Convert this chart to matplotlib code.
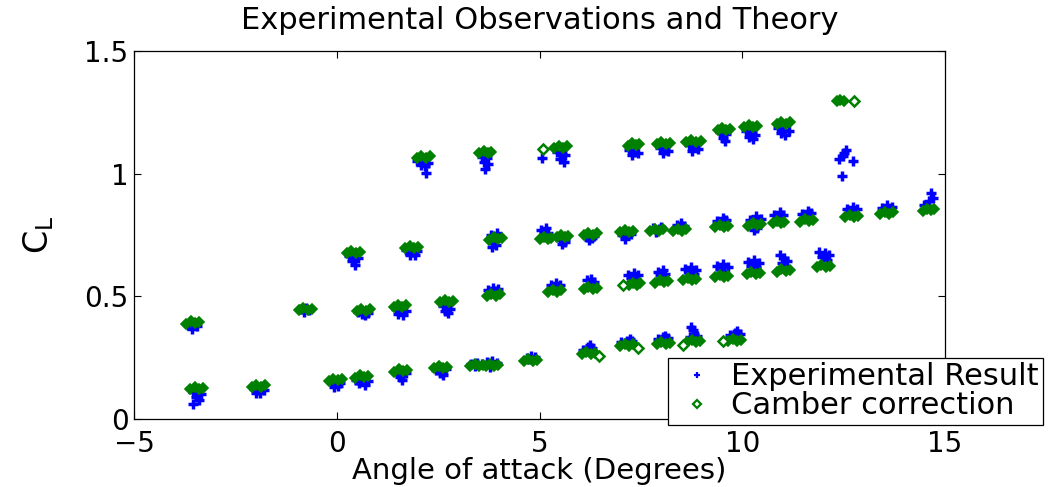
import matplotlib.pyplot as plt

# Experimental result (blue +), one line per angle-of-attack cluster
exp_x_low = [-3.55, -3.42, -3.35, -3.48, -3.55, -3.40,
             -2.05, -1.92, -1.80, -1.98, -1.88,
             -0.12, 0.00, 0.08, -0.06, 0.03,
             0.48, 0.62, 0.76, 0.56, 0.70,
             1.48, 1.62, 1.70, 1.55, 1.62,
             2.46, 2.60, 2.70, 2.55, 2.62,
             3.32, 3.45, 3.58, 3.40,
             3.70, 3.82, 3.95, 3.78,
             4.68, 4.80, 4.90, 4.75,
             6.08, 6.20, 6.30, 6.15, 6.25,
             7.02, 7.15, 7.28, 7.10, 7.22,
             7.92, 8.05, 8.18, 8.00, 8.10,
             8.70, 8.82, 8.88, 8.78, 8.74,
             9.70, 9.82, 9.95, 9.78, 9.86]
exp_y_low = [.112, .108, .100, .088, .060, .078,
             .122, .118, .120, .106, .104,
             .148, .150, .145, .132, .136,
             .160, .162, .155, .145, .138,
             .186, .183, .188, .170, .158,
             .200, .198, .203, .186, .178,
             .226, .229, .225, .215,
             .232, .236, .230, .214,
             .250, .258, .252, .245,
             .282, .295, .290, .276, .300,
             .312, .320, .318, .308, .326,
             .325, .335, .330, .322, .340,
             .333, .345, .338, .362, .376,
             .343, .352, .348, .336, .360]

exp_x_mid = [-3.66, -3.52, -3.44, -3.56,
             -0.88, -0.76, -0.68, -0.80,
             0.52, 0.66, 0.78, 0.70, 0.62,
             1.46, 1.58, 1.70, 1.52, 1.64,
             2.62, 2.72, 2.80, 2.68, 2.74,
             3.74, 3.86, 3.98, 3.80, 3.92,
             5.28, 5.40, 5.50, 5.35, 5.45,
             6.16, 6.28, 6.34, 6.22,
             7.18, 7.32, 7.44, 7.26, 7.38,
             7.92, 8.04, 8.10, 7.98,
             8.60, 8.74, 8.86, 8.68, 8.80,
             9.38, 9.52, 9.64, 9.46, 9.56,
             10.14, 10.28, 10.42, 10.22, 10.34,
             10.94, 11.04, 11.10, 10.98, 11.02,
             11.90, 12.04, 12.14, 11.96, 12.08]
exp_y_mid = [.385, .382, .378, .366,
             .447, .452, .446, .438,
             .438, .436, .432, .424, .428,
             .448, .444, .440, .430, .425,
             .462, .455, .448, .440, .434,
             .527, .536, .530, .518, .522,
             .545, .556, .548, .536, .540,
             .565, .572, .558, .548,
             .588, .596, .585, .575, .570,
             .600, .606, .592, .585,
             .610, .618, .606, .598, .592,
             .623, .632, .620, .610, .604,
             .638, .648, .636, .624, .618,
             .668, .658, .645, .636, .624,
             .680, .676, .670, .660, .650]

exp_x_high = [0.30, 0.44, 0.52, 0.38, 0.46,
              1.72, 1.86, 1.98, 1.80, 1.92,
              3.80, 3.95, 3.86, 3.92, 3.84,
              5.04, 5.16, 5.10, 5.22,
              5.50, 5.62, 5.56, 5.64,
              6.16, 6.30, 6.22, 6.34,
              7.04, 7.18, 7.10, 7.26,
              7.80, 7.94, 7.88, 8.00,
              8.38, 8.50, 8.44, 8.56,
              9.38, 9.52, 9.46, 9.60,
              10.18, 10.34, 10.46, 10.28, 10.36,
              10.78, 10.92, 10.88, 11.00,
              11.48, 11.62, 11.58, 11.70,
              12.58, 12.72, 12.82, 12.66,
              13.44, 13.58, 13.68, 13.52,
              14.48, 14.60, 14.70, 14.56, 14.66]
exp_y_high = [.665, .660, .655, .642, .628,
              .688, .680, .685, .670, .668,
              .752, .758, .718, .708, .700,
              .770, .778, .762, .758,
              .728, .722, .712, .732,
              .742, .738, .728, .745,
              .752, .748, .735, .755,
              .780, .776, .762, .782,
              .790, .798, .782, .788,
              .806, .818, .800, .810,
              .812, .826, .816, .770, .780,
              .830, .842, .820, .832,
              .835, .846, .826, .838,
              .855, .866, .858, .845,
              .862, .872, .866, .852,
              .872, .888, .900, .864, .922]

exp_x_top = [1.98, 2.12, 2.24, 2.08, 2.18, 2.20,
             3.58, 3.70, 3.64, 3.74, 3.66,
             5.05,
             5.42, 5.56, 5.64, 5.50, 5.60,
             7.20, 7.34, 7.42, 7.28,
             7.96, 8.10, 8.16, 8.04,
             8.68, 8.84, 8.92, 8.76,
             9.46, 9.60, 9.52, 9.58,
             10.08, 10.24, 10.32, 10.16, 10.26,
             10.88, 11.04, 11.14, 10.96, 11.06,
             12.38, 12.48, 12.52, 12.56, 12.74, 12.45]
exp_y_top = [1.050, 1.046, 1.042, 1.034, 1.030, 1.002,
             1.068, 1.062, 1.046, 1.040, 1.020,
             1.064,
             1.090, 1.082, 1.076, 1.060, 1.046,
             1.098, 1.090, 1.086, 1.076,
             1.106, 1.098, 1.092, 1.084,
             1.116, 1.108, 1.102, 1.094,
             1.168, 1.160, 1.145, 1.135,
             1.172, 1.166, 1.158, 1.150, 1.140,
             1.186, 1.180, 1.172, 1.165, 1.158,
             1.060, 1.072, 1.085, 1.098, 1.050, 0.992]

# Camber correction (green diamonds), one line per cluster
cam_x_low = [-3.61, -3.50, -3.39, -3.29,
             -2.09, -1.98, -1.87, -1.77,
             -0.19, -0.08, 0.03, 0.13,
             0.46, 0.57, 0.68, 0.78,
             1.42, 1.53, 1.64, 1.74,
             2.41, 2.52, 2.63, 2.73,
             3.29, 3.40, 3.51, 3.61,
             3.68, 3.78, 3.88, 3.98,
             4.61, 4.72, 4.83, 4.93,
             6.04, 6.15, 6.26, 6.36,
             6.99, 7.10, 7.21, 7.31,
             7.89, 8.00, 8.11, 8.21,
             8.64, 8.75, 8.86, 8.96,
             9.66, 9.77, 9.88, 9.98]
cam_y_low = [.121, .130, .122, .127,
             .131, .140, .132, .137,
             .156, .165, .157, .162,
             .169, .178, .170, .175,
             .193, .202, .194, .199,
             .207, .216, .208, .213,
             .216, .225, .217, .222,
             .216, .225, .217, .222,
             .236, .245, .237, .242,
             .264, .273, .265, .270,
             .298, .307, .299, .304,
             .305, .314, .306, .311,
             .312, .321, .313, .318,
             .318, .327, .319, .324]

cam_x_mid = [-3.71, -3.60, -3.49, -3.39,
             -0.94, -0.83, -0.72, -0.62,
             0.49, 0.60, 0.71, 0.81,
             1.40, 1.51, 1.62, 1.72,
             2.55, 2.66, 2.77, 2.87,
             3.70, 3.81, 3.92, 4.02,
             5.22, 5.33, 5.44, 5.54,
             6.09, 6.20, 6.31, 6.41,
             7.20, 7.30, 7.40, 7.48,
             7.85, 7.96, 8.07, 8.17,
             8.55, 8.66, 8.77, 8.87,
             9.33, 9.44, 9.55, 9.65,
             10.11, 10.22, 10.33, 10.43,
             10.85, 10.96, 11.07, 11.17,
             11.84, 11.95, 12.06, 12.16]
cam_y_mid = [.389, .398, .390, .395,
             .444, .453, .445, .450,
             .441, .450, .442, .447,
             .457, .466, .458, .463,
             .475, .484, .476, .481,
             .502, .511, .503, .508,
             .518, .527, .519, .524,
             .529, .538, .530, .535,
             .547, .556, .548, .553,
             .556, .565, .557, .562,
             .566, .575, .567, .572,
             .577, .586, .578, .583,
             .591, .600, .592, .597,
             .601, .610, .602, .607,
             .618, .627, .619, .624]

cam_x_high = [0.25, 0.36, 0.47, 0.57,
              1.69, 1.80, 1.91, 2.01,
              3.76, 3.87, 3.98, 4.08,
              5.00, 5.10, 5.20, 5.28,
              5.43, 5.53, 5.63, 5.71,
              6.09, 6.20, 6.31, 6.41,
              6.99, 7.10, 7.21, 7.31,
              7.73, 7.84, 7.95, 8.05,
              8.30, 8.41, 8.52, 8.62,
              9.33, 9.44, 9.55, 9.65,
              10.15, 10.26, 10.37, 10.47,
              10.75, 10.85, 10.95, 11.03,
              11.43, 11.54, 11.65, 11.75,
              12.54, 12.65, 12.76, 12.86,
              13.40, 13.51, 13.62, 13.72,
              14.45, 14.55, 14.65, 14.73]
cam_y_high = [.676, .685, .677, .682,
              .697, .706, .698, .703,
              .731, .740, .732, .737,
              .733, .742, .734, .739,
              .740, .749, .741, .746,
              .751, .760, .752, .757,
              .761, .770, .762, .767,
              .767, .776, .768, .773,
              .767, .776, .768, .773,
              .781, .790, .782, .787,
              .788, .797, .789, .794,
              .797, .806, .798, .803,
              .805, .814, .806, .811,
              .822, .831, .823, .828,
              .836, .845, .837, .842,
              .849, .858, .850, .855]

cam_x_top = [1.97, 2.08, 2.19, 2.29,
             3.52, 3.62, 3.72, 3.80,
             5.36, 5.47, 5.58, 5.68,
             7.17, 7.27, 7.37, 7.45,
             7.89, 8.00, 8.11, 8.21,
             8.61, 8.73, 8.85, 8.97,
             9.41, 9.51, 9.61, 9.69,
             10.05, 10.16, 10.27, 10.37,
             10.85, 10.96, 11.07, 11.17,
             12.33, 12.42, 12.50]
cam_y_top = [1.064, 1.073, 1.065, 1.070,
             1.083, 1.092, 1.084, 1.089,
             1.105, 1.114, 1.106, 1.111,
             1.114, 1.123, 1.115, 1.120,
             1.121, 1.130, 1.122, 1.127,
             1.128, 1.137, 1.129, 1.134,
             1.178, 1.187, 1.179, 1.184,
             1.189, 1.198, 1.190, 1.195,
             1.203, 1.212, 1.204, 1.209,
             1.297, 1.302, 1.298]

# single camber points that stand apart (drawn open)
cam_x_single = [6.47, 7.42, 8.53, 9.53, 7.06, 5.09, 12.76]
cam_y_single = [.255, .288, .303, .316, .546, 1.102, 1.295]

x_ticks = [-5, 0, 5, 10, 15]
y_ticks = [0, 0.5, 1, 1.5]
y_tick_labels = ["0", "0.5", "1", "1.5"]

plt.rcParams["font.family"] = ["DejaVu Sans"]

fig = plt.figure(figsize=(10.49, 4.87), dpi=100)
ax = fig.add_axes([0.1277, 0.1396, 0.7732, 0.7557])

exp_x = exp_x_low + exp_x_mid + exp_x_high + exp_x_top
exp_y = exp_y_low + exp_y_mid + exp_y_high + exp_y_top
cam_x = cam_x_low + cam_x_mid + cam_x_high + cam_x_top
cam_y = cam_y_low + cam_y_mid + cam_y_high + cam_y_top

green = "#008000"
ax.plot(exp_x, exp_y, "+", color="#0000ff", markersize=7.2, markeredgewidth=2.5,
        label="Experimental Result")
ax.plot(cam_x, cam_y, "D", color=green, markersize=4.8, markeredgewidth=1.2,
        label="Camber correction")
ax.plot(cam_x_single, cam_y_single, "D", color=green, markerfacecolor="white",
        markersize=4.8, markeredgewidth=1.8)

ax.set_xlim(-5, 15)
ax.set_ylim(0, 1.5)
ax.set_xticks(x_ticks)
ax.set_yticks(y_ticks)
ax.set_yticklabels(y_tick_labels)
ax.tick_params(direction="in", length=5, width=0.8, top=True, right=True,
               labelsize=20, colors="black")
ax.tick_params(axis="x", pad=8)
ax.tick_params(axis="y", pad=4)
for s in ax.spines.values():
    s.set_linewidth(0.9)

ax.set_title("Experimental Observations and Theory", fontsize=22, pad=16)
ax.set_xlabel("Angle of attack (Degrees)", fontsize=21, labelpad=-1)
ax.set_ylabel(r"$\mathregular{C_L}$", fontsize=24, labelpad=20)

leg = ax.legend(loc="lower right", bbox_to_anchor=(1043 / 1049, 1 - 425 / 487),
                bbox_transform=fig.transFigure, fontsize=22, fancybox=False,
                framealpha=1, edgecolor="black", borderpad=0.15, labelspacing=0.0,
                handlelength=1.6, handletextpad=0.3, borderaxespad=0, numpoints=1)
leg.get_frame().set_linewidth(0.9)
for h in leg.legend_handles:
    h.set_markersize(4.5)
    h.set_markeredgewidth(1.6)
leg.legend_handles[1].set_markerfacecolor("none")

plt.savefig("out.png", dpi=100)
